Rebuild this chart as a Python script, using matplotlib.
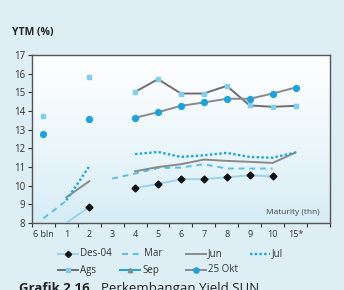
import numpy as np
import matplotlib
matplotlib.use("Agg")
import matplotlib.pyplot as plt
from matplotlib.lines import Line2D

plt.rcParams['font.family'] = ['Open Sans', 'DejaVu Sans']

nan = np.nan
kategori = ["6 bln", "1", "2", "3", "4", "5", "6", "7", "8", "9", "10", "15*", ""]

des04 = [nan, 8.0, 8.86, nan, 9.88, 10.09, 10.35, 10.35, 10.45, 10.56, 10.5, nan, nan]
mar = [8.25, 9.2, nan, 10.38, 10.65, 10.95, 10.97, 11.15, 10.92, 10.92, 10.92, nan, nan]
jun = [nan, 9.38, 10.24, nan, 10.77, 11.0, 11.15, 11.4, 11.33, 11.28, 11.22, 11.78, nan]
jul = [nan, 9.22, 11.04, nan, 11.69, 11.81, 11.54, 11.63, 11.76, 11.54, 11.5, 11.78, nan]
ags = [13.75, nan, 15.85, nan, 15.03, 15.71, 14.94, 14.94, 15.35, 14.3, 14.23, 14.28, nan]
sep = [nan] * 13
okt25 = [12.78, nan, 13.6, nan, 13.64, 13.94, 14.28, 14.46, 14.66, 14.66, 14.94, 15.26, nan]

x = np.arange(len(kategori))

W, H = 344, 290
fig = plt.figure(figsize=(3.44, 2.90), dpi=100)
fig.patch.set_facecolor("#ddeff5")
ax = fig.add_axes([0.093, 0.231, 0.866, 0.579])

# latar gradasi biru muda ke putih
grad = np.linspace(0, 1, 256).reshape(-1, 1)
top = np.array([0.83, 0.925, 0.96])
bot = np.array([1.0, 1.0, 1.0])
img = top + (bot - top) * grad[:, :, None] ** 0.8
ax.imshow(img, extent=[-0.5, 12.5, 17, 8], aspect='auto', zorder=0)

c_lb = "#9ad3ec"
c_mar = "#5cbde6"
c_jul = "#1aa6dc"
c_gray = "#8a8a8a"
c_dgray = "#6e6e72"
c_blue = "#1aa3dd"
c_sq = "#7fd0ef"

gaya = [
    dict(color=c_lb, lw=1.4, marker='D', ms=3.5, mfc='#111111', mec='#111111'),
    dict(color=c_mar, lw=1.4, ls=(0, (3, 2.5))),
    dict(color=c_gray, lw=1.4),
    dict(color=c_jul, lw=1.7, ls=(0, (1, 1))),
    dict(color=c_dgray, lw=1.4, marker='s', ms=2.5, mfc=c_sq, mec=c_sq),
    dict(color=c_blue, lw=1.4, marker='^', ms=3.5, mfc=c_gray, mec=c_gray),
    dict(color=c_gray, lw=1.4, marker='o', ms=4.2, mfc=c_blue, mec=c_blue),
]
seri = [des04, mar, jun, jul, ags, sep, okt25]
labels = ["Des-04", "Mar", "Jun", "Jul", "Ags", "Sep", "25 Okt"]

for i, (y, g) in enumerate(zip(seri, gaya)):
    if i == 0:
        ax.plot(x, y, zorder=3, markevery=[k for k in range(len(x)) if k != 1], **g)
    else:
        ax.plot(x, y, zorder=3, **g)

ax.set_xlim(-0.5, 12.5)
ax.set_ylim(8, 17)
ax.set_yticks(range(8, 18))
ax.set_xticks(np.arange(-0.5, 13, 1))
ax.set_xticklabels([])
ax.set_xticks(x, minor=True)
ax.set_xticklabels(kategori, minor=True)
ax.tick_params(axis='x', which='minor', length=0, pad=5, labelsize=6.5, colors='#333333')
ax.tick_params(axis='x', which='major', length=3, direction='out', color='#333333')
ax.tick_params(axis='y', length=3, labelsize=7, colors='#333333', pad=2)
for s in ax.spines.values():
    s.set_color('#555555')
    s.set_linewidth(1.0)

ax.text(0.965, 0.04, "Maturity (thn)", transform=ax.transAxes, ha='right', va='bottom',
        fontsize=6, color='#444444')
fig.text(12 / W, 1 - 33 / H, "YTM (%)", fontsize=7.5, fontweight='bold', va='center', color='#222222')

# legenda manual, jarak kolom seragam
posisi = [(58, 254), (122, 254), (186, 254), (250, 254), (58, 270), (120, 270), (186, 270)]
for (px, py), g, lab in zip(posisi, gaya, labels):
    xs = [px / W, (px + 20) / W]
    ys = [1 - py / H] * 2
    kw = {k: v for k, v in g.items() if k not in ('marker', 'ms', 'mfc', 'mec')}
    fig.add_artist(Line2D(xs, ys, **kw))
    if 'marker' in g:
        fig.add_artist(Line2D([(px + 10) / W], [1 - py / H], ls='none', marker=g['marker'],
                              ms=g['ms'] * 0.9, mfc=g['mfc'], mec=g['mec']))
    fig.text((px + 22) / W, 1 - py / H, lab, fontsize=7, va='center', color='#333333')

fig.text(19 / W, 1 - 282 / H, "Grafik 2.16", fontsize=9.5, fontweight='bold', va='top', color='#222222')
fig.text(101 / W, 1 - 282 / H, "Perkembangan Yield SUN", fontsize=9.5, va='top', color='#222222')

fig.savefig("out.png", dpi=100, facecolor=fig.get_facecolor())
